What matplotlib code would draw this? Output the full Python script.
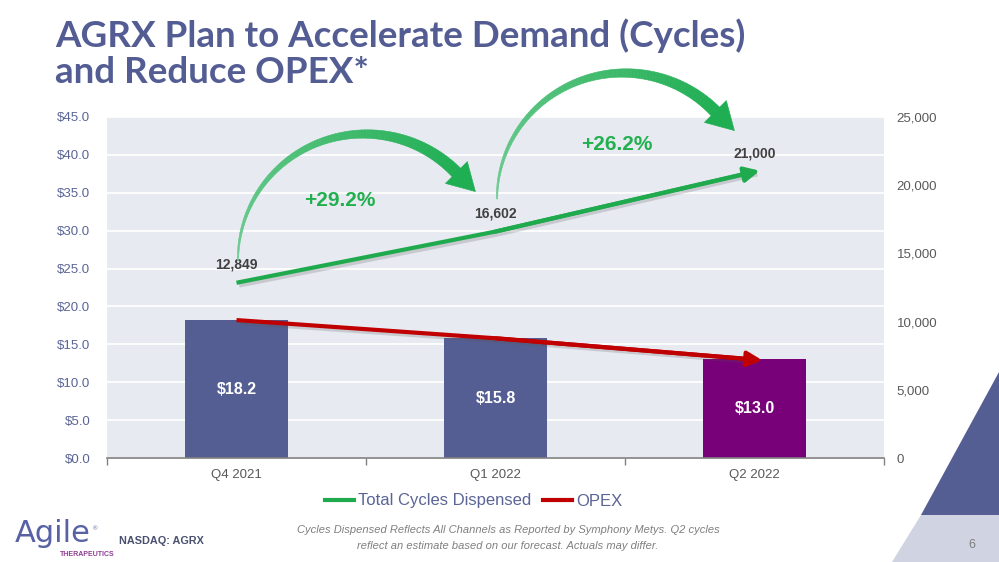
import matplotlib
matplotlib.use("Agg")
import matplotlib.pyplot as plt
import numpy as np
from matplotlib.patches import Polygon
from matplotlib.lines import Line2D
from matplotlib.colors import LinearSegmentedColormap
import matplotlib.patheffects as pe

# ---------------- data ----------------
quarters = ["Q4 2021", "Q1 2022", "Q2 2022"]
opex = [18.2, 15.8, 13.0]
cycles = [12849, 16602, 21000]
growth_labels = ["+29.2%", "+26.2%"]
left_ticks = [0, 5, 10, 15, 20, 25, 30, 35, 40, 45]
right_ticks = [0, 5000, 10000, 15000, 20000, 25000]

W, H = 999, 562
fig = plt.figure(figsize=(W / 100, H / 100), dpi=100)
fig.patch.set_facecolor("white")

SLATE = "#535D93"
GREEN = "#1FAA4E"
RED = "#C00000"
SANS = ["Liberation Sans", "DejaVu Sans"]
NARROW = ["Liberation Sans Narrow", "Liberation Sans", "DejaVu Sans"]


def fx(x):
    return x / W


def fy(y):
    return 1 - y / H


# ---------------- axes ----------------
ax = fig.add_axes([fx(107), fy(458), (884 - 107) / W, (458 - 117) / H])
ax.set_facecolor("#E8EAF2")
x = np.arange(len(quarters))
bar_colors = ["#545E92", "#545E92", "#780079"]
ax.bar(x, opex, width=0.4, color=bar_colors, zorder=2)
ax.set_xlim(-0.5, 2.5)
ax.set_ylim(0, 45)
ax.set_yticks(left_ticks)
ax.set_yticklabels([f"${v:.1f}" for v in left_ticks], family=SANS)
ax.grid(axis="y", color="white", lw=1.3, zorder=0)
ax.set_axisbelow(True)
for s in ["top", "right", "left"]:
    ax.spines[s].set_visible(False)
ax.spines["bottom"].set_color("#808080")
ax.spines["bottom"].set_linewidth(1.2)
ax.tick_params(axis="y", length=0, colors="#5A6496", labelsize=9.5, pad=12)
ax.set_xticks(x)
ax.set_xticklabels(quarters, family=SANS)
ax.tick_params(axis="x", which="major", length=0, colors="#595959", labelsize=9.5, pad=8)
ax.set_xticks([-0.5, 0.5, 1.5, 2.5], minor=True)
ax.tick_params(axis="x", which="minor", length=5, direction="out", color="#808080", width=1)

# bar value labels
for xi, v in zip(x, opex):
    ax.text(xi, v / 2, f"${v:.1f}", ha="center", va="center", color="white",
            fontsize=11.5, fontweight="bold", family=NARROW, zorder=5)

shadow = [pe.SimpleLineShadow(offset=(2, -2), alpha=0.22, shadow_color="#555555"), pe.Normal()]

# OPEX line (left axis)
ax.plot(x, opex, color=RED, lw=3, zorder=4, solid_capstyle="butt", path_effects=shadow)
ax.annotate("", xy=(x[-1] + 0.03, opex[-1] - 0.1), xytext=(x[-2], opex[-2]),
            arrowprops=dict(arrowstyle="-|>,head_length=0.9,head_width=0.45", color=RED,
                            lw=3, shrinkA=0, shrinkB=0), zorder=4)

# cycles line (right axis)
ax2 = ax.twinx()
ax2.set_ylim(0, 25000)
ax2.set_yticks(right_ticks)
ax2.set_yticklabels([f"{v:,}" for v in right_ticks], family=SANS)
ax2.tick_params(axis="y", length=0, colors="#595959", labelsize=9.5, pad=9)
for s in ["top", "right", "left", "bottom"]:
    ax2.spines[s].set_visible(False)
ax2.plot(x, cycles, color=GREEN, lw=3, zorder=4, solid_capstyle="butt", path_effects=shadow)
ax2.annotate("", xy=(x[-1] + 0.02, cycles[-1] + 60), xytext=(x[-2], cycles[-2]),
             arrowprops=dict(arrowstyle="-|>,head_length=0.9,head_width=0.45", color=GREEN,
                             lw=3, shrinkA=0, shrinkB=0), zorder=4)
for xi, v in zip(x, cycles):
    ax2.annotate(f"{v:,}", xy=(xi, v), xytext=(0, 18), textcoords="offset pixels",
                 ha="center", va="center", fontsize=10, fontweight="bold",
                 color="#404040", family=NARROW)

# growth labels
growth_pos = [(0.40, 18900), (1.47, 23020)]
for (gx, gy), lab in zip(growth_pos, growth_labels):
    ax2.text(gx, gy, lab, ha="center", va="center", fontsize=15, fontweight="bold",
             color="#22B04E", family=SANS)


# ---------------- curved arrows (elliptical arcs, tapered) ----------------
def to_fig(pts):
    pts = np.asarray(pts, float)
    return np.column_stack([pts[:, 0] / W, 1 - pts[:, 1] / H])


cmap = LinearSegmentedColormap.from_list("g", ["#6ECC92", "#1FAE52"])


def curved_arrow(cx, cy, a, b, th0, th1, head_len=27, head_w=31, w0=1.2, w1=12.0):
    th = np.radians(np.linspace(th0, th1, 100))
    pts = np.column_stack([cx + a * np.cos(th), cy - b * np.sin(th)])
    d = np.gradient(pts, axis=0)
    d /= np.linalg.norm(d, axis=1)[:, None]
    n = np.column_stack([-d[:, 1], d[:, 0]])
    w = np.linspace(w0, w1, len(th)) / 2
    left = pts + n * w[:, None]
    right = pts - n * w[:, None]
    for i in range(len(th) - 1):
        quad = np.array([left[i], left[i + 1], right[i + 1], right[i]])
        c = cmap(i / (len(th) - 2))
        fig.add_artist(Polygon(to_fig(quad), closed=True, fc=c, ec=c, lw=0.4,
                               transform=fig.transFigure, zorder=6))
    base = pts[-1]
    dv = d[-1]
    nv = n[-1]
    tip = base + dv * head_len
    head = [base + nv * head_w / 2, tip, base - nv * head_w / 2]
    c = cmap(1.0)
    fig.add_artist(Polygon(to_fig(head), closed=True, fc=c, ec=c, lw=0.4,
                           transform=fig.transFigure, zorder=6))


for k in range(2):
    curved_arrow(365 + 259 * k, 260 - 61 * k, 127, 126, 180, 44)

# ---------------- legend ----------------
handles = [Line2D([], [], color=GREEN, lw=3), Line2D([], [], color=RED, lw=3)]
leg = fig.legend(handles, ["Total Cycles Dispensed", "OPEX"], loc="center",
                 bbox_to_anchor=(fx(474), fy(501)), ncol=2, frameon=False,
                 handlelength=1.75, handletextpad=0.25, columnspacing=0.7,
                 prop={"family": SANS, "size": 12})
for t_ in leg.get_texts():
    t_.set_color("#5A6496")

# ---------------- title ----------------
fig.text(fx(55), fy(47), "AGRX Plan to Accelerate Demand (Cycles)", fontsize=26.5,
         fontweight="bold", color=SLATE, family=["Lato", "DejaVu Sans"], va="baseline")
fig.text(fx(55), fy(83), "and Reduce OPEX*", fontsize=26.5,
         fontweight="bold", color=SLATE, family=["Lato", "DejaVu Sans"], va="baseline")

# ---------------- footer ----------------
fig.text(fx(508), fy(530), "Cycles Dispensed Reflects All Channels as Reported by Symphony Metys. Q2 cycles",
         ha="center", va="center", fontsize=8, style="italic", color="#7F7F7F", family=NARROW)
fig.text(fx(508), fy(546), "reflect an estimate based on our forecast. Actuals may differ.",
         ha="center", va="center", fontsize=8, style="italic", color="#7F7F7F", family=NARROW)

fig.text(fx(15), fy(542), "Agile", fontsize=22, color="#5662A5",
         family=["DejaVu Sans"], va="baseline")
fig.text(fx(93), fy(529), "®", fontsize=4.5, color="#5662A5", family=SANS, va="center")
fig.text(fx(60), fy(554), "THERAPEUTICS", fontsize=5, color="#8E3C95", fontweight="bold",
         family=NARROW, va="center")
fig.text(fx(119), fy(541), "NASDAQ: AGRX", fontsize=7.8, color="#4A5070", fontweight="bold",
         family=SANS, va="center")
fig.text(fx(972), fy(545), "6", fontsize=9, color="#7F7F7F", family=SANS, ha="center", va="center")

# decorative corner shapes
fig.add_artist(Polygon(to_fig([(892, 562), (921, 515), (999, 515), (999, 562)]), closed=True,
                       fc="#D0D3E2", ec="none", transform=fig.transFigure, zorder=0))
fig.add_artist(Polygon(to_fig([(921, 515), (999, 372), (999, 515)]), closed=True,
                       fc="#545E92", ec="none", transform=fig.transFigure, zorder=0))

fig.savefig("out.png", dpi=100)
